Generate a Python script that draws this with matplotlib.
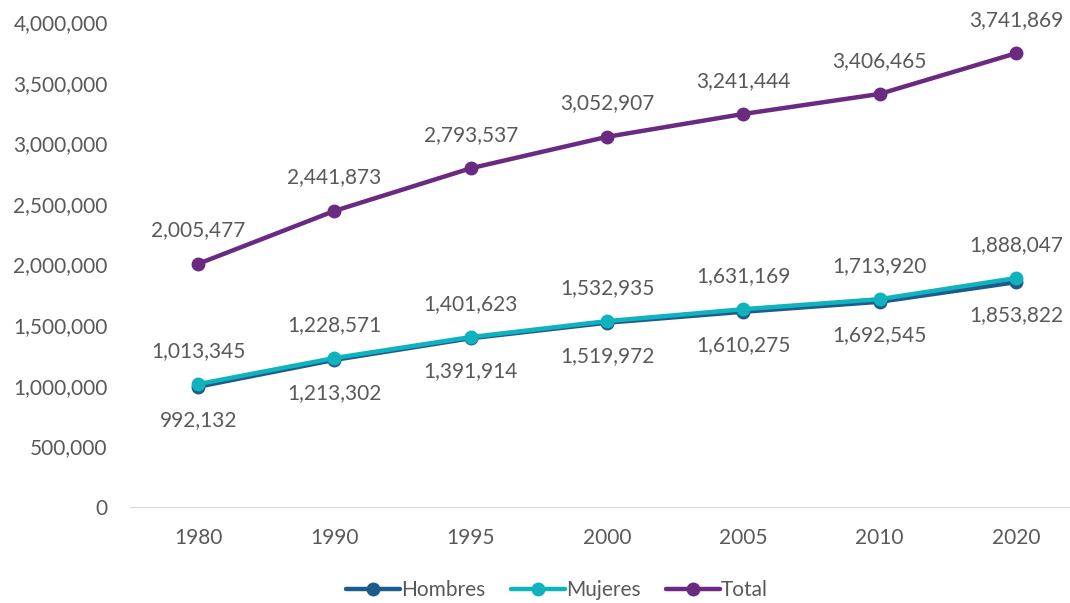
import matplotlib.pyplot as plt

years = ["1980", "1990", "1995", "2000", "2005", "2010", "2020"]
hombres = [992132, 1213302, 1391914, 1519972, 1610275, 1692545, 1853822]
mujeres = [1013345, 1228571, 1401623, 1532935, 1631169, 1713920, 1888047]
total = [2005477, 2441873, 2793537, 3052907, 3241444, 3406465, 3741869]

plt.rcParams["font.family"] = ["Lato", "DejaVu Sans"]
gray = "#595959"
fs = 15

fig = plt.figure(figsize=(10.7, 6.03), dpi=100)
ax = fig.add_axes([130 / 1070, 1 - 507 / 603, (1084 - 130) / 1070, (507 - 22) / 603])
x = range(len(years))

series = [
    ("Hombres", hombres, "#1F5A8C", -1),
    ("Mujeres", mujeres, "#0FB3BE", 1),
    ("Total", total, "#6B2A82", 1),
]
for name, vals, col, side in series:
    ax.plot(x, vals, color=col, lw=3.2, marker="o", ms=9, label=name,
            solid_capstyle="round")
    for i, v in enumerate(vals):
        ax.annotate(f"{v:,}", (i, v), xytext=(0, 24 * side), textcoords="offset points",
                    ha="center", va="center", fontsize=fs, color=gray)

ax.set_xlim(-0.5, 6.5)
ax.set_ylim(0, 4000000)
ax.set_yticks(range(0, 4000001, 500000))
ax.yaxis.set_major_formatter(plt.FuncFormatter(lambda v, p: f"{int(v):,}"))
ax.set_xticks(list(x), years)
ax.tick_params(length=0, labelsize=fs, labelcolor=gray)
ax.tick_params(axis="x", pad=15)
ax.tick_params(axis="y", pad=16)
for s in ["top", "right", "left"]:
    ax.spines[s].set_visible(False)
ax.spines["bottom"].set_color("#d9d9d9")

fig.legend(loc="center", bbox_to_anchor=(557 / 1070, 1 - 590 / 603), ncol=3,
           frameon=False, fontsize=fs, labelcolor=gray, handlelength=2.6,
           handletextpad=0.05, columnspacing=1.2)

fig.savefig("out.png")
